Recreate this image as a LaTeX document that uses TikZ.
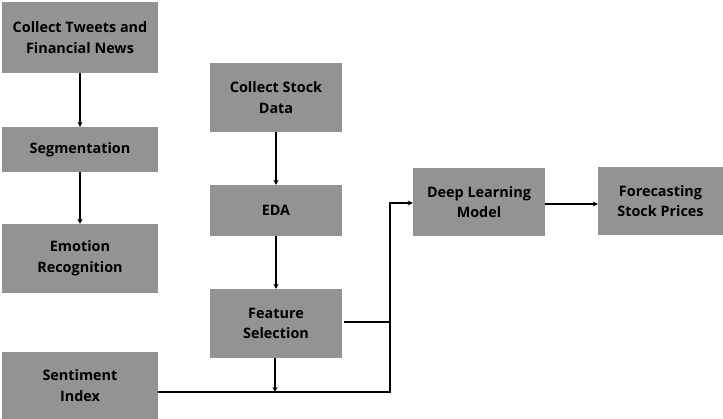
\documentclass[tikz,border=0pt]{standalone}
\usepackage{fontspec}
\setmainfont{Open Sans}
\usetikzlibrary{arrows.meta}
\begin{document}
\begin{tikzpicture}[x=1pt,y=-1pt,
  box/.style={draw=none,fill=boxgray,inner sep=0pt,align=center,
    font=\fontsize{14.4}{20.5}\selectfont\bfseries,text=black},
  conn/.style={line width=1.4pt,black},
  arr/.style={conn,-{Stealth[length=5pt,width=5pt]}}]
\definecolor{boxgray}{HTML}{939393}
\useasboundingbox (0,0) rectangle (723,419);
\newcommand{\mybox}[6]{\node[box,minimum width=#4-#2,minimum height=#5-#3] (#1) at ({(#2+#4)/2},{(#3+#5)/2}) {#6};}
\mybox{tw}{2}{2}{158}{73}{Collect Tweets and\\Financial News}
\mybox{seg}{2}{127}{158}{172}{Segmentation}
\mybox{emo}{2}{224}{158}{293}{Emotion\\Recognition}
\mybox{sent}{2}{352}{158}{419}{Sentiment\\Index}
\mybox{csd}{210}{63}{342}{132}{Collect Stock\\Data}
\mybox{eda}{210}{185}{342}{236}{EDA}
\mybox{fs}{210}{289}{342}{358}{Feature\\Selection}
\mybox{dl}{413}{168}{545}{236}{Deep Learning\\Model}
\mybox{fc}{598}{167}{723}{235}{Forecasting\\Stock Prices}
\coordinate (j1) at (390,322);
\coordinate (j2) at (390,392);
\coordinate (j3) at (390,203);
\coordinate (m) at (275,392);
\draw[arr] (tw) -- (seg);
\draw[arr] (seg) -- (emo);
\draw[arr] (csd) -- (eda);
\draw[arr] (eda) -- (fs);
\draw[arr] (fs.south -| m) -- (m);
\draw[conn] (fs.east |- j1) ++(2,0) -- (j1);
\draw[conn] (sent.east |- j2) -- (j2) -- (j3);
\draw[arr] ([xshift=-0.7pt]j3) -- (j3 -| dl.west);
\draw[arr] (dl.east |- 0,204) -- (fc.west |- 0,204);
\end{tikzpicture}
\end{document}
